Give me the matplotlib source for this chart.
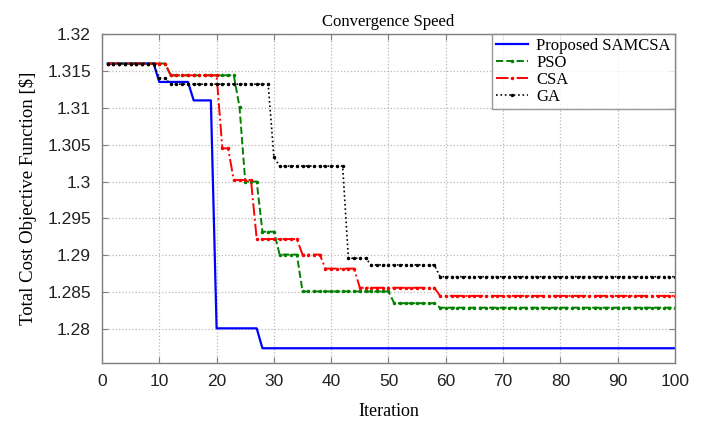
import numpy as np
import matplotlib
matplotlib.use('Agg')
import matplotlib.pyplot as plt

# values, stored as (level, number of iterations at that level)
iters = np.arange(1, 101)

samcsa_lvl = [1.316, 1.3135, 1.311, 1.2801, 1.2774]
samcsa_run = [9, 6, 4, 8, 73]

pso_lvl = [1.316, 1.3144, 1.3101, 1.300, 1.2932, 1.2901, 1.2851, 1.2835, 1.2829]
pso_run = [11, 12, 1, 3, 3, 4, 16, 8, 42]

csa_lvl = [1.316, 1.3144, 1.3045, 1.3002, 1.2922, 1.2901, 1.2882, 1.2856, 1.2845]
csa_run = [11, 9, 2, 4, 8, 4, 6, 14, 42]

ga_lvl = [1.316, 1.314, 1.3132, 1.3033, 1.3021, 1.2896, 1.2887, 1.2871]
ga_run = [9, 2, 18, 1, 12, 4, 12, 42]

x_ticks = [0, 10, 20, 30, 40, 50, 60, 70, 80, 90, 100]
y_ticks = [1.28, 1.285, 1.29, 1.295, 1.3, 1.305, 1.31, 1.315, 1.32]
y_labels = ['1.28', '1.285', '1.29', '1.295', '1.3', '1.305', '1.31', '1.315', '1.32']

serif = 'Liberation Serif'
sans = 'Liberation Sans'
frame_col = '#7f7f7f'

fig = plt.figure(figsize=(7.05, 4.22), dpi=100)
ax = fig.add_axes([0.1447, 0.1398, 0.8127, 0.7796])

ax.plot(iters, np.repeat(samcsa_lvl, samcsa_run), color='#0000ff', lw=1.6, label='Proposed SAMCSA')
ax.plot(iters, np.repeat(pso_lvl, pso_run), color='#008000', ls='--', lw=1.4,
        marker='.', ms=3, label='PSO')
ax.plot(iters, np.repeat(csa_lvl, csa_run), color='#ff0000', ls='-.', lw=1.4,
        marker='.', ms=3, label='CSA')
ax.plot(iters, np.repeat(ga_lvl, ga_run), color='black', ls=':', lw=1.2,
        marker='.', ms=3, label='GA')

ax.set_xlim(0, 100)
ax.set_ylim(1.2754, 1.32)
ax.set_xticks(x_ticks)
ax.set_yticks(y_ticks)
ax.set_yticklabels(y_labels)
ax.tick_params(direction='in', length=4, color=frame_col, labelsize=12.5,
               top=True, right=True, pad=8)
for lab in ax.get_xticklabels() + ax.get_yticklabels():
    lab.set_fontfamily(sans)
    lab.set_color('#222222')

ax.grid(True, color='#b8b8b8', ls=':', lw=0.9)
for s in ax.spines.values():
    s.set_color(frame_col)
    s.set_linewidth(1.0)

ax.set_title('Convergence Speed', fontfamily=serif, fontsize=12, pad=6)
ax.set_xlabel('Iteration', fontfamily=serif, fontsize=13, labelpad=10)
ax.set_ylabel('Total Cost Objective Function [$]', fontfamily=serif, fontsize=13.5, labelpad=7)

leg = ax.legend(loc='upper right', borderaxespad=0, fancybox=False,
                prop={'family': serif, 'size': 12}, handlelength=1.9,
                labelspacing=0.05, borderpad=0.25, handletextpad=0.5)
leg.get_frame().set_edgecolor(frame_col)
leg.get_frame().set_linewidth(1.0)

fig.savefig('out.png', dpi=100)
